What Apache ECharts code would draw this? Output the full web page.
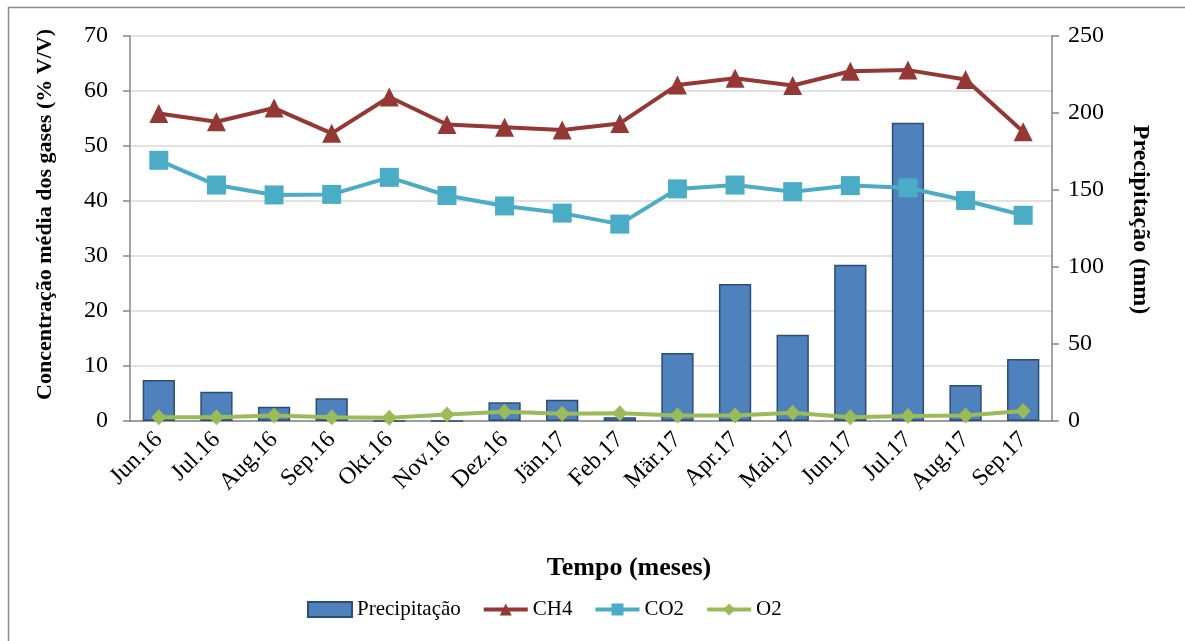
<!DOCTYPE html>
<html>
<head>
<meta charset="utf-8">
<script src="https://cdn.jsdelivr.net/npm/echarts@6/dist/echarts.min.js"></script>
<style>
html,body{margin:0;padding:0;background:#fff;}
#c{width:1185px;height:641px;}
</style>
</head>
<body>
<div id="c"></div>
<script>
const categories = ['Jun.16','Jul.16','Aug.16','Sep.16','Okt.16','Nov.16','Dez.16','Jän.17','Feb.17','Mär.17','Apr.17','Mai.17','Jun.17','Jul.17','Aug.17','Sep.17'];
const precipitacao = [26.6, 19, 9.3, 14.7, 0, 0, 12.1, 13.8, 2.5, 44.2, 89, 56, 101.5, 193.7, 23.4, 40.3];
const ch4 = [55.9, 54.4, 56.9, 52.3, 58.9, 53.9, 53.4, 52.9, 54.1, 61.1, 62.3, 61.0, 63.6, 63.8, 62.1, 52.6];
const co2 = [47.4, 42.9, 41.1, 41.2, 44.3, 41.0, 39.1, 37.8, 35.8, 42.2, 42.9, 41.7, 42.8, 42.4, 40.1, 37.4];
const o2 = [0.7, 0.7, 1.0, 0.7, 0.6, 1.2, 1.7, 1.3, 1.4, 1.0, 1.0, 1.5, 0.7, 0.9, 1.0, 1.8];
const leftTicks = [0, 10, 20, 30, 40, 50, 60, 70];
const rightTicks = [0, 50, 100, 150, 200, 250];

const FONT = '"Liberation Serif", "Times New Roman", serif';
const chart = echarts.init(document.getElementById('c'), null, {renderer: 'canvas'});
chart.setOption({
  backgroundColor: '#fff',
  animation: false,
  textStyle: {fontFamily: FONT, color: '#000'},
  graphic: [{
    type: 'rect', silent: true, z: -10,
    shape: {x: 8.5, y: 7.5, width: 1300, height: 800},
    style: {fill: 'none', stroke: '#8c8c8c', lineWidth: 1.5}
  }],
  grid: {left: 130, right: 133, top: 36, bottom: 220},
  legend: {
    top: 599, left: 307, padding: 0,
    itemGap: 21, itemWidth: 44, itemHeight: 15,
    textStyle: {fontFamily: FONT, fontSize: 21, color: '#000'},
    data: [
      {name: 'Precipitação', icon: 'rect'},
      {name: 'CH4', lineStyle: {width: 4}},
      {name: 'CO2', lineStyle: {width: 4}},
      {name: 'O2', lineStyle: {width: 4}}
    ]
  },
  xAxis: {
    type: 'category', data: categories,
    name: 'Tempo (meses)', nameLocation: 'middle', nameGap: 134,
    nameTextStyle: {fontFamily: FONT, fontSize: 26, fontWeight: 'bold', color: '#000', padding: [0, 0, 0, 76]},
    axisLine: {lineStyle: {color: '#868686', width: 1.5}},
    axisTick: {show: false},
    axisLabel: {rotate: 45, margin: 15, fontFamily: FONT, fontSize: 24, color: '#000'}
  },
  yAxis: [{
    type: 'value', min: 0, max: 70, interval: 10,
    name: 'Concentração média dos gases (% V/V)', nameLocation: 'middle', nameGap: 74,
    nameTextStyle: {fontFamily: FONT, fontSize: 22, fontWeight: 'bold', color: '#000', padding: [0, 0, 0, 28]},
    axisLine: {show: true, lineStyle: {color: '#868686', width: 1.5}},
    axisTick: {show: true, length: 7, lineStyle: {color: '#868686', width: 1.5}},
    axisLabel: {fontFamily: FONT, fontSize: 24, color: '#000', margin: 22},
    splitLine: {lineStyle: {color: '#d9d9d9', width: 1.5}}
  }, {
    type: 'value', min: 0, max: 250, interval: 50, position: 'right',
    name: 'Precipitação (mm)', nameLocation: 'middle', nameGap: 76, nameRotate: -90,
    nameTextStyle: {fontFamily: FONT, fontSize: 24, fontWeight: 'bold', color: '#000', padding: [0, 18, 0, 0]},
    axisLine: {show: true, lineStyle: {color: '#868686', width: 1.5}},
    axisTick: {show: true, length: 7, lineStyle: {color: '#868686', width: 1.5}},
    axisLabel: {fontFamily: FONT, fontSize: 24, color: '#000', margin: 16},
    splitLine: {show: false}
  }],
  series: [{
    name: 'Precipitação', type: 'bar', yAxisIndex: 1, data: precipitacao,
    barWidth: '56%',
    itemStyle: {color: '#4f81bd', borderColor: '#2c4d75', borderWidth: 1.5},
    z: 1
  }, {
    name: 'CH4', type: 'line', yAxisIndex: 0, data: ch4,
    symbol: 'triangle', symbolSize: 19,
    lineStyle: {color: '#953735', width: 4},
    itemStyle: {color: '#953735'}, z: 3
  }, {
    name: 'CO2', type: 'line', yAxisIndex: 0, data: co2,
    symbol: 'rect', symbolSize: 19,
    lineStyle: {color: '#4bacc6', width: 4},
    itemStyle: {color: '#4bacc6'}, z: 3
  }, {
    name: 'O2', type: 'line', yAxisIndex: 0, data: o2,
    symbol: 'diamond', symbolSize: [15, 16],
    lineStyle: {color: '#9bbb59', width: 4},
    itemStyle: {color: '#9bbb59'}, z: 4
  }]
});
</script>
</body>
</html>
